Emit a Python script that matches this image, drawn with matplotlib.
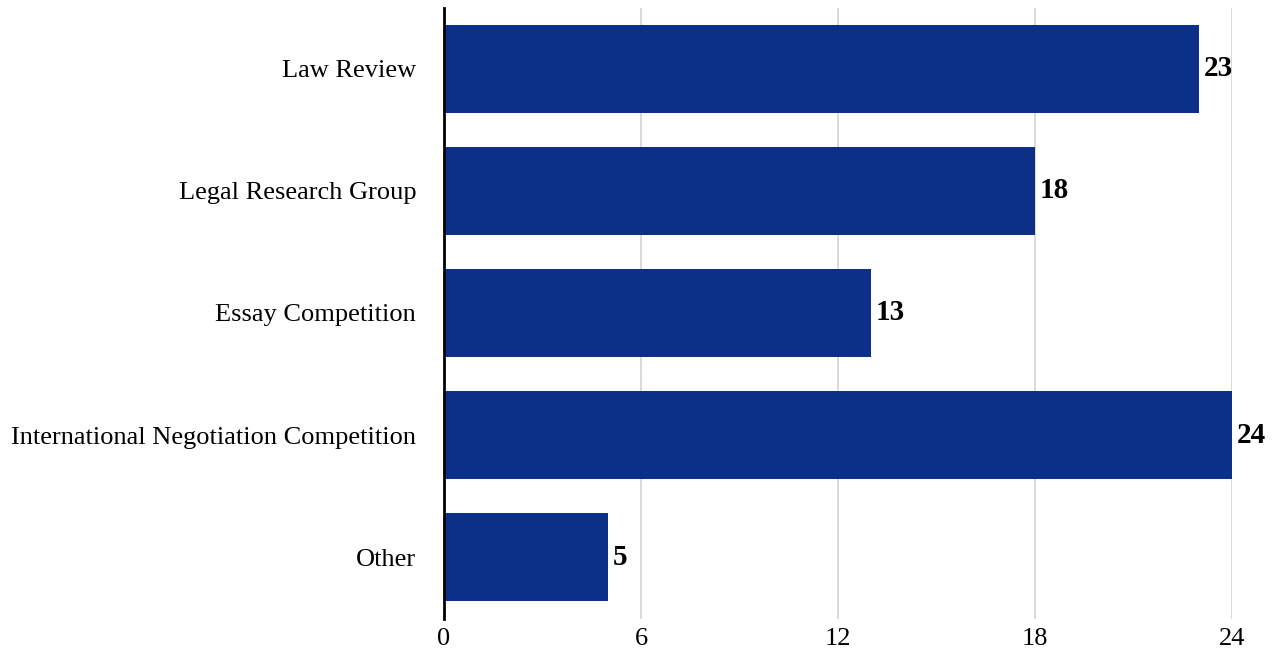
import matplotlib
matplotlib.use("Agg")
import matplotlib.pyplot as plt

categories = ["Law Review", "Legal Research Group", "Essay Competition",
              "International Negotiation Competition", "Other"]
values = [23, 18, 13, 24, 5]
xticks = [0, 6, 12, 18, 24]

plt.rcParams['font.family'] = ['Liberation Serif', 'DejaVu Serif']

fig = plt.figure(figsize=(12.85, 6.58), dpi=100)
ax = fig.add_axes([444 / 1285, 1 - 618.5 / 658, (1232 - 444) / 1285, (618.5 - 7.5) / 658])

ypos = list(range(len(categories)))
bars = ax.barh(ypos, values, height=0.72, color="#0c2f87", zorder=3)
for b, v in zip(bars, values):
    ax.text(b.get_width() + 0.15, b.get_y() + b.get_height() / 2, str(v),
            va="center", ha="left", fontsize=21, fontweight="bold", color="black")

ax.set_ylim(len(categories) - 0.5, -0.5)
ax.set_yticks(ypos)
ax.set_yticklabels(categories, fontsize=19)
ax.set_xlim(0, 24)
ax.set_xticks(xticks)
ax.set_xticklabels([str(t) for t in xticks], fontsize=19)
ax.tick_params(axis="both", length=0)
ax.tick_params(axis="y", pad=20)
ax.tick_params(axis="x", pad=7)

ax.grid(axis="x", color="#d3d3d3", linewidth=1.2, zorder=0)
for s in ["top", "right", "bottom"]:
    ax.spines[s].set_visible(False)
ax.spines["left"].set_linewidth(2)
ax.spines["left"].set_color("black")
ax.spines["left"].set_zorder(4)

fig.savefig("out.png", dpi=100)
